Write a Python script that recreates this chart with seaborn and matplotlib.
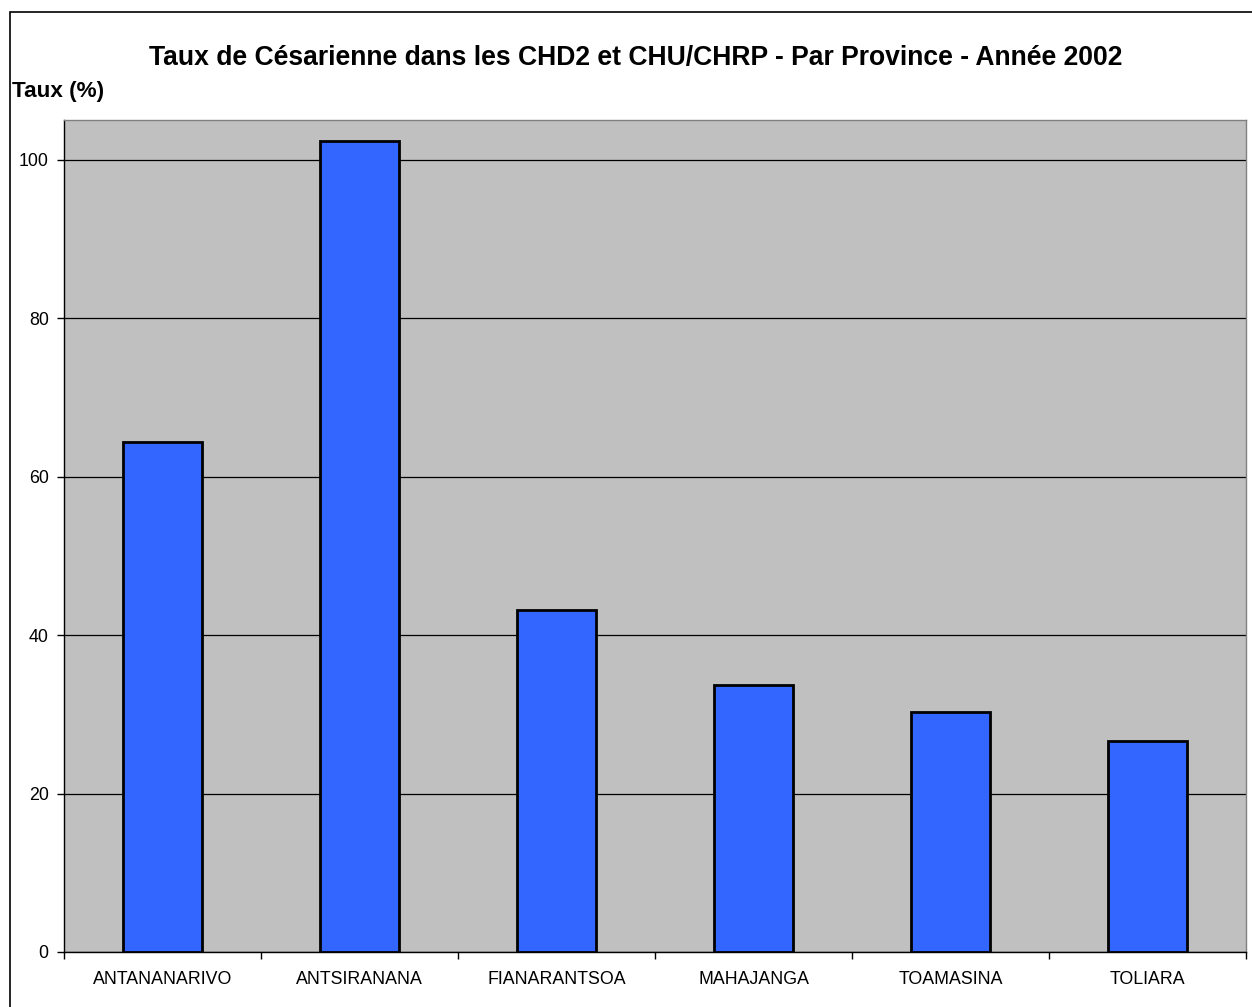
import matplotlib
matplotlib.use("Agg")
import matplotlib.pyplot as plt
import seaborn as sns
import pandas as pd
from matplotlib.patches import Rectangle

categories = ["ANTANANARIVO", "ANTSIRANANA", "FIANARANTSOA", "MAHAJANGA", "TOAMASINA", "TOLIARA"]
values = [64.3, 102.3, 43.2, 33.7, 30.3, 26.6]
yticks = [0, 20, 40, 60, 80, 100]

sns.set_theme(style="white")
plt.rcParams['font.family'] = ['Liberation Sans', 'DejaVu Sans']
plt.rcParams['text.color'] = 'black'
plt.rcParams['xtick.color'] = 'black'
plt.rcParams['ytick.color'] = 'black'

df = pd.DataFrame({"Province": categories, "Taux": values})

fig = plt.figure(figsize=(12.52, 10.07), dpi=100)
ax = fig.add_axes([64/1252, 1-952/1007, (1246-64)/1252, (952-120)/1007])
ax.set_facecolor("#C0C0C0")

sns.barplot(data=df, x="Province", y="Taux", color="#3366FF", edgecolor="black",
            linewidth=2, width=0.4, ax=ax, saturation=1, zorder=3)

ax.set_ylim(0, 105)
ax.set_xlim(-0.5, len(categories) - 0.5)
ax.set_yticks(yticks)
ax.set_yticklabels([str(t) for t in yticks], fontsize=12.8, color="black")
ax.yaxis.grid(True, color="black", linewidth=0.9, zorder=1)
ax.set_axisbelow(True)
ax.tick_params(axis="y", direction="out", length=5, width=1, color="black", left=True, pad=6)
ax.set_xticks(range(len(categories)))
ax.set_xticklabels(categories, fontsize=12.8, color="black")
ax.tick_params(axis="x", which="major", length=0, pad=14)
ax.set_xticks([i - 0.5 for i in range(len(categories) + 1)], minor=True)
ax.tick_params(axis="x", which="minor", direction="out", length=5, width=1, color="black", bottom=True)
ax.set_xlabel("")
ax.set_ylabel("")

for s in ["left", "bottom"]:
    ax.spines[s].set_color("black")
    ax.spines[s].set_linewidth(1)
for s in ["top", "right"]:
    ax.spines[s].set_color("#808080")
    ax.spines[s].set_linewidth(1)

fig.text(636/1252, 1-58/1007, "Taux de Césarienne dans les CHD2 et CHU/CHRP - Par Province - Année 2002",
         ha="center", va="center", fontsize=19.1, fontweight="bold", color="black")
fig.text(12/1252, 1-91/1007, "Taux (%)", ha="left", va="center", fontsize=16.2, fontweight="bold", color="black")

fig.patches.append(Rectangle((10/1252, -0.05), 1.2, 1-12/1007+0.05, transform=fig.transFigure,
                             fill=False, edgecolor="black", linewidth=1.2))

fig.savefig("out.png", dpi=100)
